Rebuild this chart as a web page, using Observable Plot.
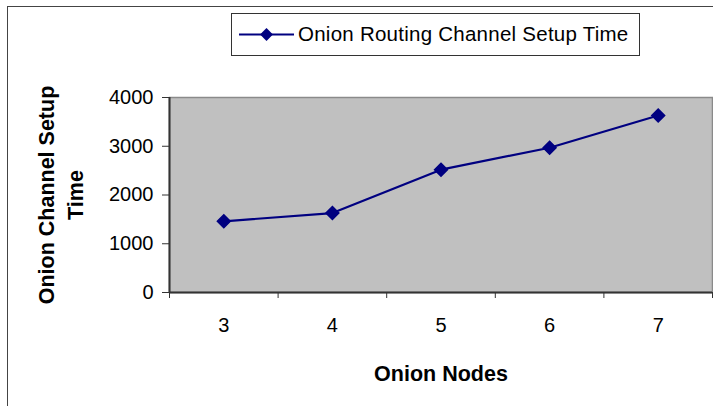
<!DOCTYPE html>
<html>
<head>
<meta charset="utf-8">
<script src="https://cdn.jsdelivr.net/npm/d3@7"></script>
<script src="https://cdn.jsdelivr.net/npm/@observablehq/plot@0.6"></script>
<style>
  html, body { margin: 0; padding: 0; background: #fff; }
  #wrap { position: relative; width: 713px; height: 406px; overflow: hidden; font-family: "Liberation Sans", Arial, sans-serif; }
  #outer { position: absolute; left: 7px; top: 6px; width: 800px; height: 500px; border-left: 1.5px solid #444; border-top: 1.5px solid #444; }
  #chart { position: absolute; left: 0; top: 0; }
  #legend { position: absolute; left: 231px; top: 13px; width: 409px; height: 43px; border: 1px solid #333; background: #fff; box-sizing: border-box; }
  #legend svg { position: absolute; left: 0; top: 0; }
  #legend span { position: absolute; left: 66px; top: 8px; font-size: 20.5px; letter-spacing: 0.25px; white-space: nowrap; color: #000; }
</style>
</head>
<body>
<div id="wrap">
  <div id="outer"></div>
  <div id="chart"></div>
  <div id="legend"></div>
</div>
<script>
const seriesName = "Onion Routing Channel Setup Time";
const nodes = [3, 4, 5, 6, 7];
const setupTime = [1460, 1630, 2520, 2970, 3630];
const yTicks = [0, 1000, 2000, 3000, 4000];
const xTitle = "Onion Nodes";
const yTitle = "Onion Channel Setup\nTime";
const lineColor = "#000080";

const data = nodes.map((n, i) => ({node: n, time: setupTime[i]}));
const boundaries = nodes.map(n => n - 0.5).concat([nodes[nodes.length - 1] + 0.5]);

const chart = Plot.plot({
  width: 713,
  height: 406,
  marginLeft: 169,
  marginRight: 1,
  marginTop: 97,
  marginBottom: 114,
  style: {fontFamily: "Liberation Sans, Arial, sans-serif", fontSize: "20px", background: "transparent", color: "#000"},
  x: {type: "linear", domain: [boundaries[0], boundaries[boundaries.length - 1]]},
  y: {domain: [0, 4000]},
  marks: [
    Plot.frame({fill: "#c0c0c0", stroke: "#8a8a8a", strokeWidth: 1.5}),
    Plot.axisY({ticks: yTicks, tickFormat: d3.format("d"), tickSize: 7, tickPadding: 9, stroke: "#333", label: null, fontSize: 20}),
    Plot.axisX({ticks: boundaries, tickFormat: () => "", tickSize: 6, stroke: "#333", label: null}),
    Plot.axisX({ticks: nodes, tickFormat: d3.format("d"), tickSize: 0, tickPadding: 25, label: null, fontSize: 20}),
    Plot.ruleX([boundaries[0]], {stroke: "#333", strokeWidth: 2}),
    Plot.ruleY([0], {stroke: "#333", strokeWidth: 2}),
    Plot.line(data, {x: "node", y: "time", stroke: lineColor, strokeWidth: 2.2}),
    Plot.dot(data, {x: "node", y: "time", symbol: "diamond2", r: 5.8, fill: lineColor, stroke: lineColor}),
    Plot.text([xTitle], {frameAnchor: "bottom", dy: 82, fontWeight: "bold", fontSize: 21.5, lineAnchor: "middle"}),
    Plot.text([yTitle], {frameAnchor: "left", textAnchor: "middle", dx: -110, rotate: -90, fontWeight: "bold", fontSize: 21.5, lineAnchor: "middle", lineHeight: 1.35})
  ]
});
document.getElementById("chart").appendChild(chart);

// Legend
const legend = document.getElementById("legend");
const ls = d3.create("svg").attr("width", 66).attr("height", 41);
ls.append("line").attr("x1", 7).attr("x2", 62).attr("y1", 20.5).attr("y2", 20.5).attr("stroke", lineColor).attr("stroke-width", 2);
ls.append("path").attr("d", d3.symbol(d3.symbolDiamond2, Math.PI * 5.8 * 5.8)()).attr("transform", "translate(34.5,20.5)").attr("fill", lineColor);
legend.appendChild(ls.node());
const span = document.createElement("span");
span.textContent = seriesName;
legend.appendChild(span);
</script>
</body>
</html>
